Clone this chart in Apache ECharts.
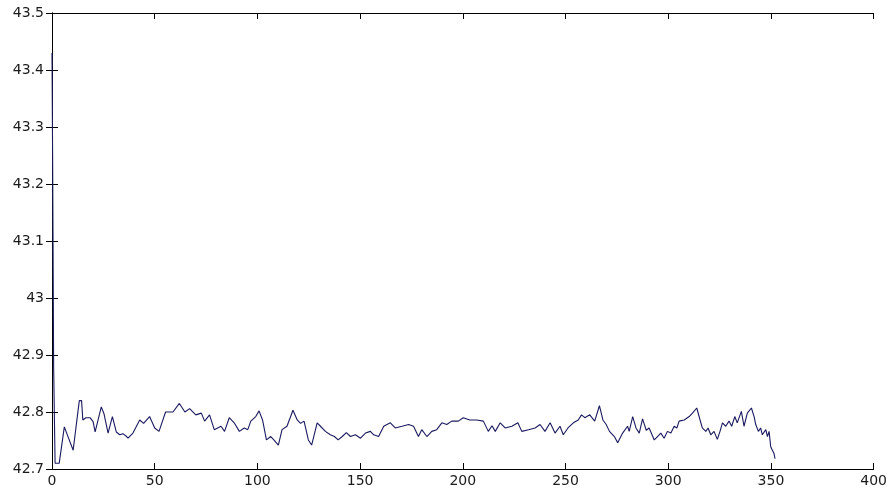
<!DOCTYPE html>
<html>
<head>
<meta charset="utf-8">
<script src="https://cdn.jsdelivr.net/npm/echarts@6/dist/echarts.min.js"></script>
<style>html,body{margin:0;padding:0;background:#fff;}#c{width:890px;height:491px;}</style>
</head>
<body>
<div id="c"></div>
<script>
const xTicks = [0, 50, 100, 150, 200, 250, 300, 350, 400];
const yTicks = [42.7, 42.8, 42.9, 43.0, 43.1, 43.2, 43.3, 43.4, 43.5];
const xs = [0,0.3,0.8,1.5,3.5,6,10.3,13.3,14.4,15,16.5,18.5,20,21,24,25.3,27.3,29.4,31.3,33,34.5,36,37,39.4,42.7,44.6,47.5,50,52.1,55.3,58.9,62,64.7,67,70,72.7,74.3,76.7,79,82.3,84,86.3,88.7,91.2,93.6,95.3,96.8,99.2,100.8,102.5,104.4,106.5,108,110.2,112,114.4,117.3,119.4,121,122.7,123.5,124.8,126.4,129.1,130.7,133.1,135.5,137.5,139.3,141.3,143.3,145.3,147.7,150.2,152.6,155,156.6,159,161.5,164.7,167.1,170.4,173.6,176,178.4,180,182.5,184.9,187.3,189.8,192.2,194.6,197.8,200.2,203.4,206.7,210,212.4,214.2,215.8,218.2,220.6,223.9,226.8,228.7,232,235.2,237.6,240,242.5,244.9,247.3,248.9,251.2,253.8,256.2,257.8,259.4,261.8,264.2,266.5,268.2,269.8,271.4,273.8,275.4,277.8,280.2,281,282.7,284.3,285.9,287.5,289.3,290.7,293.2,294.8,296.4,298,299.6,301.3,302.9,304.2,305.3,307.8,310.2,311.8,313.9,315.5,316.6,318.3,319.4,320.7,322.3,323.9,325.2,326.4,328,329.6,330.9,332.4,333.6,335.6,336.9,338.5,340.5,341.8,342.6,343.9,345,345.8,347.5,348.3,349.1,349.9,350.7,351.5,352];
const ys = [43.43,43.25,42.88,42.71,42.71,42.774,42.733,42.82,42.82,42.786,42.79,42.79,42.783,42.765,42.809,42.797,42.763,42.792,42.765,42.76,42.762,42.758,42.754,42.763,42.786,42.78,42.792,42.772,42.766,42.80,42.80,42.815,42.80,42.806,42.795,42.798,42.784,42.795,42.769,42.775,42.766,42.79,42.781,42.766,42.772,42.769,42.784,42.792,42.802,42.786,42.751,42.757,42.751,42.742,42.769,42.775,42.803,42.786,42.78,42.784,42.786,42.751,42.742,42.781,42.775,42.766,42.76,42.757,42.751,42.757,42.764,42.757,42.76,42.754,42.763,42.766,42.76,42.757,42.775,42.781,42.772,42.775,42.778,42.775,42.757,42.769,42.757,42.766,42.769,42.781,42.778,42.784,42.784,42.79,42.786,42.786,42.784,42.766,42.776,42.766,42.781,42.772,42.775,42.781,42.766,42.769,42.772,42.778,42.766,42.781,42.763,42.775,42.76,42.772,42.781,42.786,42.795,42.79,42.795,42.784,42.811,42.786,42.778,42.766,42.757,42.746,42.763,42.775,42.766,42.792,42.772,42.763,42.788,42.768,42.772,42.751,42.757,42.763,42.754,42.766,42.763,42.775,42.772,42.784,42.786,42.792,42.798,42.807,42.786,42.772,42.766,42.772,42.76,42.766,42.752,42.766,42.781,42.775,42.784,42.775,42.792,42.781,42.801,42.775,42.798,42.807,42.792,42.778,42.766,42.772,42.76,42.769,42.757,42.766,42.739,42.733,42.727,42.718];

const data = xs.map((x, i) => [x, ys[i]]);
const lbl = {color: '#1a1a1a', fontFamily: 'DejaVu Sans, sans-serif', fontSize: 14};
const axLine = {show: true, lineStyle: {color: '#000', width: 1}};
const tick = {show: true, inside: true, length: 6, lineStyle: {color: '#000'}};

const chart = echarts.init(document.getElementById('c'), null, {renderer: 'canvas'});
chart.setOption({
  animation: false,
  backgroundColor: '#fff',
  grid: {left: 52, right: 13, top: 13, bottom: 22, containLabel: false},
  xAxis: [
    {type: 'value', min: xTicks[0], max: xTicks[xTicks.length-1], interval: 50, position: 'bottom',
     axisLine: axLine, axisTick: tick, splitLine: {show: false},
     axisLabel: Object.assign({margin: 5}, lbl)},
    {type: 'value', min: xTicks[0], max: xTicks[xTicks.length-1], interval: 50, position: 'top',
     axisLine: axLine, axisTick: tick, splitLine: {show: false}, axisLabel: {show: false}}
  ],
  yAxis: [
    {type: 'value', min: yTicks[0], max: yTicks[yTicks.length-1], interval: 0.1, position: 'left',
     axisLine: axLine, axisTick: tick, splitLine: {show: false},
     axisLabel: Object.assign({margin: 8, formatter: v => String(Math.round(v*10)/10)}, lbl)},
    {type: 'value', min: yTicks[0], max: yTicks[yTicks.length-1], interval: 0.1, position: 'right',
     axisLine: axLine, axisTick: tick, splitLine: {show: false}, axisLabel: {show: false}}
  ],
  series: [{
    type: 'line', data: data, xAxisIndex: 0, yAxisIndex: 0,
    showSymbol: false, symbol: 'none',
    lineStyle: {color: '#1a1a60', width: 1.1}
  }]
});
</script>
</body>
</html>
